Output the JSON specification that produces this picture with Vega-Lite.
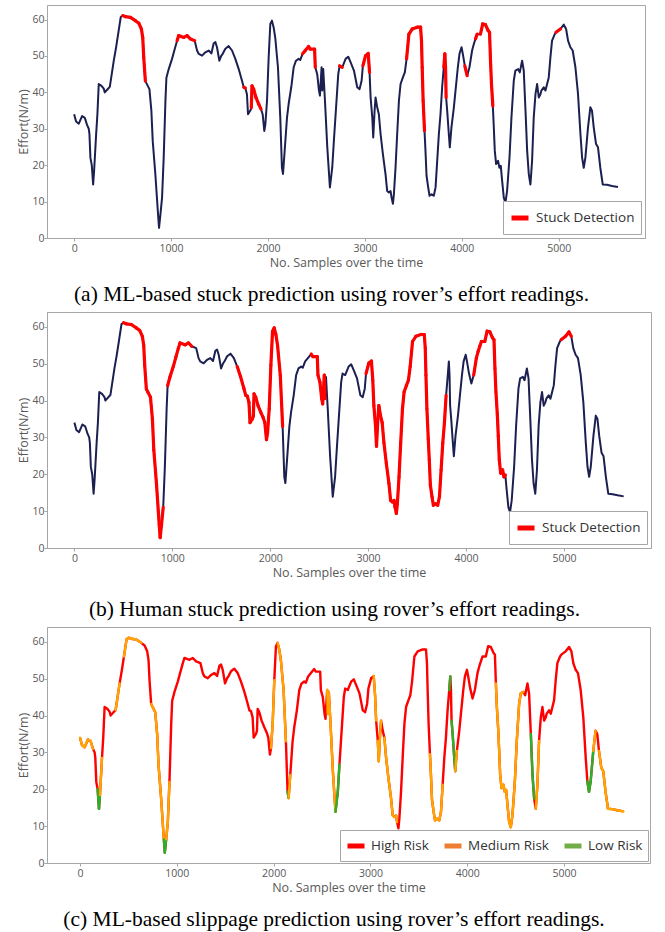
{
  "$schema": "https://vega.github.io/schema/vega-lite/v6.json",
  "background": "white",
  "padding": {"left": 17, "top": 4, "right": 5, "bottom": 0},
  "data": {"values": [
    {"x":0,"y":34,"a":0,"b":0,"c":"M"},
    {"x":20,"y":32,"a":0,"b":0,"c":"M"},
    {"x":48,"y":31.4,"a":0,"b":0,"c":"M"},
    {"x":82,"y":33.5,"a":0,"b":0,"c":"M"},
    {"x":110,"y":33,"a":0,"b":0,"c":"M"},
    {"x":134,"y":31,"a":0,"b":0,"c":"H"},
    {"x":151,"y":30,"a":0,"b":0,"c":"H"},
    {"x":158,"y":28.5,"a":0,"b":0,"c":"H"},
    {"x":168,"y":22,"a":0,"b":0,"c":"H"},
    {"x":182,"y":20,"a":0,"b":0,"c":"L"},
    {"x":196,"y":14.7,"a":0,"b":0,"c":"L"},
    {"x":206,"y":18.4,"a":0,"b":0,"c":"M"},
    {"x":227,"y":28.5,"a":0,"b":0,"c":"H"},
    {"x":240,"y":34,"a":0,"b":0,"c":"H"},
    {"x":254,"y":42.3,"a":0,"b":0,"c":"H"},
    {"x":282,"y":41.8,"a":0,"b":0,"c":"H"},
    {"x":306,"y":41,"a":0,"b":0,"c":"H"},
    {"x":316,"y":40,"a":0,"b":0,"c":"H"},
    {"x":350,"y":41,"a":0,"b":0,"c":"H"},
    {"x":368,"y":41.5,"a":0,"b":0,"c":"M"},
    {"x":409,"y":48.7,"a":0,"b":0,"c":"H"},
    {"x":433,"y":52.4,"a":0,"b":0,"c":"H"},
    {"x":454,"y":56,"a":0,"b":0,"c":"M"},
    {"x":481,"y":60.7,"a":0,"b":0,"c":"M"},
    {"x":502,"y":61.1,"a":1,"b":1,"c":"M"},
    {"x":529,"y":60.8,"a":1,"b":1,"c":"M"},
    {"x":581,"y":60.6,"a":1,"b":1,"c":"M"},
    {"x":632,"y":59.7,"a":1,"b":1,"c":"H"},
    {"x":667,"y":59,"a":1,"b":1,"c":"H"},
    {"x":694,"y":57.4,"a":1,"b":1,"c":"H"},
    {"x":708,"y":55,"a":1,"b":1,"c":"H"},
    {"x":718,"y":49.6,"a":1,"b":1,"c":"H"},
    {"x":735,"y":43.1,"a":0,"b":1,"c":"M"},
    {"x":752,"y":42.2,"a":0,"b":1,"c":"M"},
    {"x":777,"y":40.9,"a":0,"b":1,"c":"M"},
    {"x":797,"y":34.9,"a":0,"b":1,"c":"M"},
    {"x":811,"y":26.6,"a":0,"b":1,"c":"M"},
    {"x":838,"y":17.5,"a":0,"b":1,"c":"M"},
    {"x":866,"y":6.4,"a":0,"b":1,"c":"L"},
    {"x":876,"y":2.8,"a":0,"b":1,"c":"L"},
    {"x":890,"y":6.4,"a":0,"b":1,"c":"M"},
    {"x":907,"y":11,"a":0,"b":0,"c":"M"},
    {"x":924,"y":22,"a":0,"b":0,"c":"H"},
    {"x":942,"y":37.7,"a":0,"b":0,"c":"H"},
    {"x":952,"y":44,"a":0,"b":1,"c":"H"},
    {"x":976,"y":46.4,"a":0,"b":1,"c":"H"},
    {"x":1010,"y":49.2,"a":0,"b":1,"c":"H"},
    {"x":1038,"y":51.9,"a":0,"b":1,"c":"H"},
    {"x":1062,"y":54.2,"a":1,"b":1,"c":"H"},
    {"x":1079,"y":55.6,"a":1,"b":1,"c":"H"},
    {"x":1131,"y":55.1,"a":1,"b":1,"c":"H"},
    {"x":1165,"y":55.6,"a":1,"b":1,"c":"H"},
    {"x":1199,"y":54.7,"a":1,"b":0,"c":"H"},
    {"x":1244,"y":54.2,"a":0,"b":0,"c":"H"},
    {"x":1268,"y":51.5,"a":0,"b":0,"c":"H"},
    {"x":1285,"y":50.6,"a":0,"b":0,"c":"H"},
    {"x":1320,"y":50.1,"a":0,"b":0,"c":"H"},
    {"x":1354,"y":51,"a":0,"b":0,"c":"H"},
    {"x":1388,"y":51.5,"a":0,"b":0,"c":"H"},
    {"x":1416,"y":50.7,"a":0,"b":0,"c":"H"},
    {"x":1440,"y":53.5,"a":0,"b":0,"c":"H"},
    {"x":1457,"y":53.8,"a":0,"b":0,"c":"H"},
    {"x":1474,"y":52.4,"a":0,"b":0,"c":"H"},
    {"x":1498,"y":48.7,"a":0,"b":0,"c":"H"},
    {"x":1519,"y":50.1,"a":0,"b":0,"c":"H"},
    {"x":1533,"y":50.6,"a":0,"b":0,"c":"H"},
    {"x":1560,"y":52,"a":0,"b":0,"c":"H"},
    {"x":1594,"y":52.7,"a":0,"b":0,"c":"H"},
    {"x":1629,"y":51.5,"a":0,"b":0,"c":"H"},
    {"x":1663,"y":49.2,"a":0,"b":1,"c":"H"},
    {"x":1698,"y":46.4,"a":0,"b":1,"c":"H"},
    {"x":1732,"y":43.2,"a":0,"b":1,"c":"H"},
    {"x":1750,"y":41.4,"a":1,"b":1,"c":"H"},
    {"x":1766,"y":41.2,"a":0,"b":1,"c":"H"},
    {"x":1783,"y":39.5,"a":0,"b":1,"c":"H"},
    {"x":1794,"y":34,"a":0,"b":1,"c":"H"},
    {"x":1818,"y":35,"a":0,"b":1,"c":"H"},
    {"x":1828,"y":35.8,"a":1,"b":1,"c":"H"},
    {"x":1835,"y":41.8,"a":1,"b":1,"c":"H"},
    {"x":1852,"y":40.9,"a":1,"b":1,"c":"H"},
    {"x":1876,"y":38.6,"a":1,"b":1,"c":"H"},
    {"x":1904,"y":36.8,"a":1,"b":1,"c":"H"},
    {"x":1928,"y":35.4,"a":0,"b":1,"c":"H"},
    {"x":1945,"y":34,"a":0,"b":1,"c":"H"},
    {"x":1962,"y":29.4,"a":0,"b":1,"c":"H"},
    {"x":1973,"y":31.2,"a":0,"b":1,"c":"M"},
    {"x":1990,"y":37.7,"a":0,"b":1,"c":"M"},
    {"x":2007,"y":49.6,"a":0,"b":1,"c":"H"},
    {"x":2024,"y":58.8,"a":0,"b":1,"c":"H"},
    {"x":2041,"y":59.7,"a":0,"b":1,"c":"M"},
    {"x":2058,"y":57.9,"a":0,"b":1,"c":"M"},
    {"x":2075,"y":55,"a":0,"b":1,"c":"M"},
    {"x":2103,"y":46.9,"a":0,"b":1,"c":"M"},
    {"x":2127,"y":33,"a":0,"b":0,"c":"H"},
    {"x":2144,"y":19.3,"a":0,"b":0,"c":"L"},
    {"x":2155,"y":17.6,"a":0,"b":0,"c":"M"},
    {"x":2172,"y":23.9,"a":0,"b":0,"c":"H"},
    {"x":2196,"y":33,"a":0,"b":0,"c":"H"},
    {"x":2213,"y":36.8,"a":0,"b":0,"c":"H"},
    {"x":2240,"y":41.4,"a":0,"b":0,"c":"H"},
    {"x":2265,"y":46.9,"a":0,"b":0,"c":"H"},
    {"x":2289,"y":48.7,"a":0,"b":0,"c":"H"},
    {"x":2316,"y":49.2,"a":0,"b":0,"c":"H"},
    {"x":2333,"y":48.9,"a":0,"b":0,"c":"H"},
    {"x":2357,"y":50.6,"a":1,"b":0,"c":"H"},
    {"x":2385,"y":51.5,"a":1,"b":0,"c":"H"},
    {"x":2419,"y":52.6,"a":1,"b":1,"c":"H"},
    {"x":2436,"y":51.9,"a":1,"b":1,"c":"H"},
    {"x":2481,"y":51.9,"a":1,"b":1,"c":"H"},
    {"x":2488,"y":46.9,"a":0,"b":1,"c":"H"},
    {"x":2508,"y":45,"a":0,"b":1,"c":"H"},
    {"x":2526,"y":40.5,"a":0,"b":1,"c":"H"},
    {"x":2536,"y":39.1,"a":0,"b":1,"c":"H"},
    {"x":2553,"y":46.9,"a":0,"b":1,"c":"M"},
    {"x":2560,"y":40.5,"a":0,"b":0,"c":"M"},
    {"x":2570,"y":46.4,"a":0,"b":0,"c":"M"},
    {"x":2588,"y":37.7,"a":0,"b":0,"c":"M"},
    {"x":2612,"y":24.9,"a":0,"b":0,"c":"M"},
    {"x":2639,"y":13.9,"a":0,"b":0,"c":"L"},
    {"x":2663,"y":19.3,"a":0,"b":0,"c":"L"},
    {"x":2680,"y":26.7,"a":0,"b":0,"c":"H"},
    {"x":2698,"y":34,"a":0,"b":0,"c":"H"},
    {"x":2725,"y":45,"a":0,"b":0,"c":"H"},
    {"x":2739,"y":47.3,"a":1,"b":0,"c":"H"},
    {"x":2766,"y":46.9,"a":0,"b":0,"c":"H"},
    {"x":2801,"y":49.2,"a":0,"b":0,"c":"H"},
    {"x":2828,"y":49.8,"a":0,"b":0,"c":"H"},
    {"x":2852,"y":48.3,"a":0,"b":0,"c":"H"},
    {"x":2887,"y":46,"a":0,"b":0,"c":"H"},
    {"x":2921,"y":41.4,"a":0,"b":0,"c":"H"},
    {"x":2945,"y":40.9,"a":0,"b":0,"c":"H"},
    {"x":2966,"y":43.2,"a":0,"b":0,"c":"H"},
    {"x":2979,"y":47.3,"a":1,"b":1,"c":"H"},
    {"x":3007,"y":50.1,"a":1,"b":1,"c":"H"},
    {"x":3034,"y":50.7,"a":1,"b":1,"c":"M"},
    {"x":3048,"y":45.5,"a":0,"b":1,"c":"M"},
    {"x":3059,"y":38.6,"a":0,"b":1,"c":"H"},
    {"x":3076,"y":33.1,"a":0,"b":1,"c":"M"},
    {"x":3086,"y":27.6,"a":0,"b":1,"c":"M"},
    {"x":3100,"y":35,"a":0,"b":1,"c":"M"},
    {"x":3110,"y":38.6,"a":0,"b":1,"c":"H"},
    {"x":3127,"y":35.9,"a":0,"b":1,"c":"H"},
    {"x":3144,"y":34,"a":0,"b":1,"c":"M"},
    {"x":3162,"y":28.5,"a":0,"b":1,"c":"M"},
    {"x":3186,"y":23,"a":0,"b":1,"c":"M"},
    {"x":3213,"y":17.5,"a":0,"b":1,"c":"M"},
    {"x":3230,"y":12.9,"a":0,"b":1,"c":"M"},
    {"x":3247,"y":12.5,"a":0,"b":1,"c":"H"},
    {"x":3265,"y":12.9,"a":0,"b":1,"c":"M"},
    {"x":3275,"y":11.1,"a":0,"b":1,"c":"H"},
    {"x":3289,"y":9.4,"a":0,"b":1,"c":"H"},
    {"x":3299,"y":12,"a":0,"b":1,"c":"H"},
    {"x":3316,"y":19.3,"a":0,"b":1,"c":"H"},
    {"x":3333,"y":28.5,"a":0,"b":1,"c":"H"},
    {"x":3351,"y":37.7,"a":0,"b":1,"c":"H"},
    {"x":3368,"y":42.3,"a":0,"b":1,"c":"H"},
    {"x":3392,"y":44.1,"a":0,"b":1,"c":"H"},
    {"x":3412,"y":45.5,"a":0,"b":1,"c":"H"},
    {"x":3430,"y":49.2,"a":1,"b":1,"c":"H"},
    {"x":3454,"y":56,"a":1,"b":1,"c":"H"},
    {"x":3488,"y":57.4,"a":1,"b":1,"c":"H"},
    {"x":3540,"y":57.9,"a":1,"b":1,"c":"H"},
    {"x":3574,"y":57.9,"a":1,"b":1,"c":"H"},
    {"x":3584,"y":54.2,"a":1,"b":1,"c":"H"},
    {"x":3591,"y":46.9,"a":1,"b":1,"c":"H"},
    {"x":3601,"y":37.7,"a":1,"b":1,"c":"H"},
    {"x":3615,"y":29.5,"a":0,"b":1,"c":"M"},
    {"x":3625,"y":24,"a":0,"b":1,"c":"M"},
    {"x":3636,"y":17.1,"a":0,"b":1,"c":"M"},
    {"x":3653,"y":13.9,"a":0,"b":1,"c":"M"},
    {"x":3667,"y":11.6,"a":0,"b":1,"c":"M"},
    {"x":3688,"y":12,"a":0,"b":1,"c":"M"},
    {"x":3711,"y":11.6,"a":0,"b":1,"c":"M"},
    {"x":3729,"y":13.9,"a":0,"b":1,"c":"M"},
    {"x":3746,"y":21.2,"a":0,"b":1,"c":"H"},
    {"x":3763,"y":28.5,"a":0,"b":1,"c":"H"},
    {"x":3780,"y":34,"a":0,"b":1,"c":"H"},
    {"x":3797,"y":41.4,"a":0,"b":0,"c":"H"},
    {"x":3814,"y":46.9,"a":1,"b":0,"c":"L"},
    {"x":3825,"y":50.6,"a":1,"b":0,"c":"H"},
    {"x":3832,"y":46.9,"a":1,"b":0,"c":"H"},
    {"x":3838,"y":38.6,"a":0,"b":0,"c":"L"},
    {"x":3849,"y":35,"a":0,"b":0,"c":"L"},
    {"x":3866,"y":28.5,"a":0,"b":0,"c":"L"},
    {"x":3876,"y":24.9,"a":0,"b":0,"c":"M"},
    {"x":3893,"y":30.4,"a":0,"b":0,"c":"H"},
    {"x":3918,"y":35.9,"a":0,"b":0,"c":"H"},
    {"x":3935,"y":40.5,"a":0,"b":0,"c":"H"},
    {"x":3959,"y":46.9,"a":0,"b":0,"c":"H"},
    {"x":3976,"y":50.6,"a":0,"b":0,"c":"H"},
    {"x":3997,"y":52.4,"a":0,"b":0,"c":"H"},
    {"x":4010,"y":50.6,"a":0,"b":0,"c":"H"},
    {"x":4031,"y":47.3,"a":1,"b":0,"c":"H"},
    {"x":4055,"y":44.6,"a":0,"b":0,"c":"H"},
    {"x":4079,"y":46.9,"a":0,"b":1,"c":"H"},
    {"x":4106,"y":51.5,"a":0,"b":1,"c":"H"},
    {"x":4124,"y":53.3,"a":0,"b":1,"c":"H"},
    {"x":4141,"y":54.7,"a":1,"b":1,"c":"H"},
    {"x":4158,"y":56,"a":0,"b":1,"c":"H"},
    {"x":4192,"y":56,"a":1,"b":1,"c":"H"},
    {"x":4216,"y":58.8,"a":1,"b":1,"c":"H"},
    {"x":4244,"y":58.6,"a":1,"b":1,"c":"H"},
    {"x":4271,"y":57,"a":1,"b":1,"c":"H"},
    {"x":4286,"y":56.5,"a":1,"b":1,"c":"H"},
    {"x":4296,"y":48.7,"a":1,"b":1,"c":"M"},
    {"x":4306,"y":42.3,"a":1,"b":1,"c":"M"},
    {"x":4320,"y":36.3,"a":0,"b":1,"c":"M"},
    {"x":4330,"y":30.4,"a":0,"b":1,"c":"M"},
    {"x":4340,"y":24,"a":0,"b":1,"c":"M"},
    {"x":4354,"y":20.3,"a":0,"b":1,"c":"M"},
    {"x":4374,"y":21.2,"a":0,"b":1,"c":"M"},
    {"x":4388,"y":19.3,"a":0,"b":1,"c":"M"},
    {"x":4402,"y":19.8,"a":0,"b":0,"c":"M"},
    {"x":4416,"y":15.7,"a":0,"b":0,"c":"M"},
    {"x":4433,"y":11.1,"a":0,"b":0,"c":"M"},
    {"x":4450,"y":9.7,"a":0,"b":0,"c":"M"},
    {"x":4467,"y":12.9,"a":0,"b":0,"c":"M"},
    {"x":4492,"y":22.1,"a":0,"b":0,"c":"M"},
    {"x":4512,"y":33.1,"a":0,"b":0,"c":"M"},
    {"x":4536,"y":43.2,"a":0,"b":0,"c":"M"},
    {"x":4553,"y":46,"a":0,"b":0,"c":"M"},
    {"x":4581,"y":46.4,"a":0,"b":0,"c":"H"},
    {"x":4598,"y":45.5,"a":0,"b":0,"c":"H"},
    {"x":4622,"y":48.7,"a":0,"b":0,"c":"H"},
    {"x":4639,"y":46,"a":0,"b":0,"c":"H"},
    {"x":4657,"y":35,"a":0,"b":0,"c":"L"},
    {"x":4674,"y":24,"a":0,"b":0,"c":"L"},
    {"x":4691,"y":17.5,"a":0,"b":0,"c":"H"},
    {"x":4708,"y":14.7,"a":0,"b":0,"c":"M"},
    {"x":4725,"y":21.2,"a":0,"b":0,"c":"M"},
    {"x":4742,"y":33.1,"a":0,"b":0,"c":"H"},
    {"x":4760,"y":39.5,"a":0,"b":0,"c":"H"},
    {"x":4777,"y":42.3,"a":0,"b":0,"c":"H"},
    {"x":4794,"y":38.6,"a":0,"b":0,"c":"H"},
    {"x":4811,"y":39.5,"a":0,"b":0,"c":"H"},
    {"x":4821,"y":40.5,"a":0,"b":0,"c":"H"},
    {"x":4845,"y":41.4,"a":0,"b":0,"c":"H"},
    {"x":4863,"y":40.5,"a":0,"b":0,"c":"H"},
    {"x":4880,"y":42.3,"a":0,"b":0,"c":"H"},
    {"x":4897,"y":44.1,"a":0,"b":0,"c":"H"},
    {"x":4914,"y":49.6,"a":0,"b":0,"c":"H"},
    {"x":4931,"y":54.2,"a":0,"b":0,"c":"H"},
    {"x":4959,"y":56,"a":0,"b":0,"c":"H"},
    {"x":4972,"y":56.5,"a":1,"b":1,"c":"H"},
    {"x":5017,"y":57.4,"a":0,"b":1,"c":"H"},
    {"x":5052,"y":58.6,"a":0,"b":1,"c":"H"},
    {"x":5076,"y":57.4,"a":0,"b":0,"c":"H"},
    {"x":5096,"y":54.2,"a":0,"b":0,"c":"H"},
    {"x":5120,"y":52.4,"a":0,"b":0,"c":"H"},
    {"x":5144,"y":51.5,"a":0,"b":0,"c":"H"},
    {"x":5172,"y":46.9,"a":0,"b":0,"c":"H"},
    {"x":5199,"y":39.5,"a":0,"b":0,"c":"H"},
    {"x":5224,"y":28.5,"a":0,"b":0,"c":"H"},
    {"x":5241,"y":22.1,"a":0,"b":0,"c":"L"},
    {"x":5258,"y":19.3,"a":0,"b":0,"c":"L"},
    {"x":5275,"y":22.1,"a":0,"b":0,"c":"L"},
    {"x":5302,"y":30.4,"a":0,"b":0,"c":"M"},
    {"x":5326,"y":35.9,"a":0,"b":0,"c":"H"},
    {"x":5343,"y":35,"a":0,"b":0,"c":"H"},
    {"x":5361,"y":30.4,"a":0,"b":0,"c":"M"},
    {"x":5385,"y":25.8,"a":0,"b":0,"c":"M"},
    {"x":5405,"y":24.9,"a":0,"b":0,"c":"M"},
    {"x":5429,"y":19.3,"a":0,"b":0,"c":"M"},
    {"x":5454,"y":14.7,"a":0,"b":0,"c":"M"},
    {"x":5498,"y":14.6,"a":0,"b":0,"c":"M"},
    {"x":5549,"y":14.3,"a":0,"b":0,"c":"M"},
    {"x":5611,"y":14,"a":0,"b":0,"c":"M"}
  ]},
  "columns": 1,
  "spacing": 5,
  "resolve": {"scale": {"color": "independent", "x": "independent", "y": "independent"}, "legend": {"color": "independent"}},
  "concat": [
    {
      "width": 598, "height": 233,
      "title": {"text": "(a) ML-based stuck prediction using rover’s effort readings.", "offset": 15},
      "layer": [
        {
          "mark": {"type": "line", "color": "#1b2050", "strokeWidth": 2, "strokeJoin": "round"},
          "encoding": {
            "x": {"field": "x", "type": "quantitative", "scale": {"domain": [-280, 5890], "nice": false, "zero": false}, "axis": {"values": [0, 1000, 2000, 3000, 4000, 5000], "format": "d", "title": "No. Samples over the time"}},
            "y": {"field": "y", "type": "quantitative", "scale": {"domain": [0, 64], "nice": false}, "axis": {"values": [0, 10, 20, 30, 40, 50, 60], "tickCount": 7, "labelOverlap": false, "title": "Effort(N/m)"}}
          }
        },
        {
          "transform": [
            {"window": [{"op": "lead", "field": "x", "as": "nx"}, {"op": "lead", "field": "y", "as": "ny"}], "sort": [{"field": "x", "order": "ascending"}]},
            {"filter": "datum.a == 1"}
          ],
          "mark": {"type": "rule", "strokeWidth": 3.2, "strokeCap": "round"},
          "encoding": {
            "x": {"field": "x", "type": "quantitative"},
            "x2": {"field": "nx"},
            "y": {"field": "y", "type": "quantitative"},
            "y2": {"field": "ny"},
            "color": {"datum": "Stuck Detection", "type": "nominal", "scale": {"domain": ["Stuck Detection"], "range": ["#ff0000"]}, "legend": {"title": null, "orient": "bottom-right", "offset": 4}}
          }
        }
      ]
    },
    {
      "width": 604, "height": 236,
      "title": {"text": "(b) Human stuck prediction using rover’s effort readings.", "offset": 20},
      "layer": [
        {
          "mark": {"type": "line", "color": "#1b2050", "strokeWidth": 2, "strokeJoin": "round"},
          "encoding": {
            "x": {"field": "x", "type": "quantitative", "scale": {"domain": [-280, 5890], "nice": false, "zero": false}, "axis": {"values": [0, 1000, 2000, 3000, 4000, 5000], "format": "d", "title": "No. Samples over the time"}},
            "y": {"field": "y", "type": "quantitative", "scale": {"domain": [0, 64], "nice": false}, "axis": {"values": [0, 10, 20, 30, 40, 50, 60], "tickCount": 7, "labelOverlap": false, "title": "Effort(N/m)"}}
          }
        },
        {
          "transform": [
            {"window": [{"op": "lead", "field": "x", "as": "nx"}, {"op": "lead", "field": "y", "as": "ny"}], "sort": [{"field": "x", "order": "ascending"}]},
            {"filter": "datum.b == 1"}
          ],
          "mark": {"type": "rule", "strokeWidth": 3.2, "strokeCap": "round"},
          "encoding": {
            "x": {"field": "x", "type": "quantitative"},
            "x2": {"field": "nx"},
            "y": {"field": "y", "type": "quantitative"},
            "y2": {"field": "ny"},
            "color": {"datum": "Stuck Detection", "type": "nominal", "scale": {"domain": ["Stuck Detection"], "range": ["#ff0000"]}, "legend": {"title": null, "orient": "bottom-right", "offset": 4}}
          }
        }
      ]
    },
    {
      "width": 603, "height": 236,
      "title": {"text": "(c) ML-based slippage prediction using rover’s effort readings.", "offset": 15},
      "resolve": {"scale": {"color": "independent"}, "legend": {"color": "independent"}},
      "layer": [
        {
          "mark": {"type": "line", "color": "#ff0000", "strokeWidth": 2.4, "strokeJoin": "round"},
          "encoding": {
            "x": {"field": "x", "type": "quantitative", "scale": {"domain": [-341, 5888], "nice": false, "zero": false}, "axis": {"values": [0, 1000, 2000, 3000, 4000, 5000], "format": "d", "title": "No. Samples over the time"}},
            "y": {"field": "y", "type": "quantitative", "scale": {"domain": [0, 64], "nice": false}, "axis": {"values": [0, 10, 20, 30, 40, 50, 60], "tickCount": 7, "labelOverlap": false, "title": "Effort(N/m)"}}
          }
        },
        {
          "transform": [
            {"window": [{"op": "lead", "field": "x", "as": "nx"}, {"op": "lead", "field": "y", "as": "ny"}], "sort": [{"field": "x", "order": "ascending"}]},
            {"filter": "datum.c != 'H'"}
          ],
          "mark": {"type": "rule", "strokeWidth": 2.4, "strokeCap": "round"},
          "encoding": {
            "x": {"field": "x", "type": "quantitative"},
            "x2": {"field": "nx"},
            "y": {"field": "y", "type": "quantitative"},
            "y2": {"field": "ny"},
            "color": {"field": "c", "type": "nominal", "scale": {"domain": ["M", "L"], "range": ["#ffa500", "#2ab02a"]}, "legend": null}
          }
        },
        {
          "mark": {"type": "point", "size": 0, "filled": false},
          "encoding": {
            "x": {"field": "x", "type": "quantitative"},
            "y": {"field": "y", "type": "quantitative"},
            "color": {
              "field": "c", "type": "nominal",
              "scale": {"domain": ["H", "M", "L"], "range": ["#ff0000", "#ed7d31", "#70ad47"]},
              "legend": {
                "title": null, "orient": "bottom-right", "offset": 2, "direction": "horizontal", "columnPadding": 5, "padding": 5, "labelOffset": 4,
                "symbolType": "stroke", "symbolSize": 289, "symbolStrokeWidth": 5,
                "labelExpr": "datum.label == 'H' ? 'High Risk' : datum.label == 'M' ? 'Medium Risk' : 'Low Risk'"
              }
            }
          }
        }
      ]
    }
  ],
  "config": {
    "view": {"stroke": "#a6a6a6", "strokeWidth": 1},
    "axis": {
      "grid": false, "labelOverlap": false,
      "labelFont": "Open Sans", "labelFontSize": 10.5, "labelColor": "#595959",
      "titleFont": "Open Sans", "titleFontSize": 12.5, "titleFontWeight": "normal", "titleColor": "#595959",
      "domainColor": "#a6a6a6", "tickColor": "#a6a6a6", "tickSize": 3
    },
    "axisX": {"titlePadding": 3, "labelPadding": 2},
    "axisY": {"titlePadding": 1, "labelPadding": 0},
    "legend": {
      "strokeColor": "#a6a6a6", "fillColor": "white", "padding": 6,
      "labelFont": "Open Sans", "labelFontSize": 13.5, "labelColor": "#333333", "labelOffset": 5,
      "symbolType": "stroke", "symbolStrokeWidth": 5, "symbolSize": 289, "symbolOpacity": 1
    },
    "title": {"font": "Liberation Serif", "fontSize": 21.5, "fontWeight": "normal", "color": "#000000", "orient": "bottom", "frame": "bounds", "anchor": "middle"}
  }
}
